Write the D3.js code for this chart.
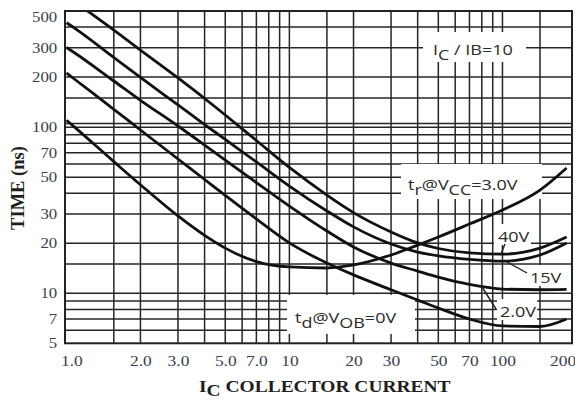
<!DOCTYPE html>
<html>
<head>
<meta charset="utf-8">
<script src="https://cdn.jsdelivr.net/npm/d3@7/dist/d3.min.js"></script>
<style>
  body { margin: 0; background: #fff; }
  svg { display: block; }
</style>
</head>
<body>
<svg id="chart" width="575" height="401"></svg>
<script>
// Switching times vs. collector current, IC/IB = 10

// collector current sample points (mA) shared by most curves
const currents = [0.9, 1, 1.5, 2, 3, 4, 5, 7, 10, 15, 20, 30, 40, 50, 70, 100, 150, 200];
// rise time at VCC = 3.0 V (ns)
const tr3V  = [110, 98, 62, 45, 29.2, 22.3, 18.7, 15.5, 14.4, 14.2, 14.8, 17, 19.5, 21.8, 26.1, 31.7, 41.8, 56.8];
// delay time at VOB = 0 V (ns)
const td0V  = [211.8, 190.8, 128, 96.1, 64.3, 48.4, 38.8, 28, 20.1, 15.2, 12.9, 10.5, 9.1, 8.15, 7.0, 6.36, 6.31, 7.0];
// rise time at VCC = 2.0 V (ns)
const tr2V  = [301.5, 275.6, 189.5, 145, 101.6, 78, 63.4, 46.4, 33.5, 23.7, 19, 15.2, 13.6, 12.5, 11.3, 10.6, 10.5, 10.55];
// rise time at VCC = 15 V (ns)
const tr15V = [425, 388, 262.5, 199, 136, 103.7, 84.3, 61.7, 44.2, 31.3, 25.1, 19.8, 17.7, 16.8, 16, 15.6, 17, 20.1];
// the 40 V curve enters the chart through its upper edge
const currents40 = [1.13, 1.5, 2, 3, 4, 5, 7, 10, 15, 20, 30, 40, 50, 70, 100, 150, 200];
const tr40V = [500, 384, 291, 197.6, 148.7, 118.3, 83.1, 57.2, 39, 30.6, 23.4, 20.1, 18.6, 17.5, 17.2, 18.7, 21.8];

// axis ticks and grid
const xTicks = [1, 2, 3, 5, 7, 10, 20, 30, 50, 70, 100, 200];
const xTickLabels = ["1.0", "2.0", "3.0", "5.0", "7.0", "10", "20", "30", "50", "70", "100", "200"];
const yTicks = [5, 7, 10, 20, 30, 50, 70, 100, 200, 300, 500];
const xGrid = [1.5, 2, 3, 4, 5, 6, 7, 8, 9, 10, 15, 20, 30, 40, 50, 60, 70, 80, 90, 100, 150];
const yGrid = [6, 7, 8, 9, 10, 15, 20, 30, 40, 50, 60, 70, 80, 90, 100, 105, 150, 200, 300, 400];

const plot = { left: 65, right: 572, top: 11, bottom: 343.3 };
const stretch = 1.2;          // type in this sheet is set wide
const serif = "'Liberation Serif', 'Times New Roman', serif";
const sans = "'Open Sans', 'DejaVu Sans', sans-serif";

const x = d3.scaleLog().domain([0.885, 212]).range([plot.left, plot.right]);
const y = d3.scaleLog().domain([5, 500]).range([plot.bottom, plot.top]);

const svg = d3.select("#chart");
svg.append("rect").attr("width", 575).attr("height", 401).attr("fill", "#fff");

svg.append("defs").append("clipPath").attr("id", "plotArea")
  .append("rect")
  .attr("x", plot.left).attr("y", plot.top)
  .attr("width", plot.right - plot.left).attr("height", plot.bottom - plot.top);

// grid
const grid = svg.append("g").attr("clip-path", "url(#plotArea)")
  .attr("stroke", "#262626").attr("stroke-width", 1.5);
grid.selectAll("line.v").data(xGrid).join("line").attr("class", "v")
  .attr("x1", d => x(d)).attr("x2", d => x(d))
  .attr("y1", plot.top).attr("y2", plot.bottom);
grid.selectAll("line.h").data(yGrid).join("line").attr("class", "h")
  .attr("x1", plot.left).attr("x2", plot.right)
  .attr("y1", d => y(d)).attr("y2", d => y(d));

// white panels behind the annotations
const panels = [
  [423, 32, 103, 30],    // IC / IB
  [401, 164, 141, 35],   // tr @ VCC
  [287, 295, 128, 39],   // td @ VOB
  [494, 224, 37, 21],    // 40V
  [527, 265, 36, 21],    // 15V
  [497, 299, 40, 21]     // 2.0V
];
svg.append("g").selectAll("rect").data(panels).join("rect")
  .attr("x", d => d[0]).attr("y", d => d[1])
  .attr("width", d => d[2]).attr("height", d => d[3])
  .attr("fill", "#fff");

// curves
const series = [
  { ic: currents, t: tr3V },
  { ic: currents, t: td0V },
  { ic: currents, t: tr2V },
  { ic: currents, t: tr15V },
  { ic: currents40, t: tr40V }
];
const line = d3.line()
  .x(d => x(d[0])).y(d => y(d[1]))
  .curve(d3.curveMonotoneX);
svg.append("g").attr("clip-path", "url(#plotArea)")
  .selectAll("path").data(series).join("path")
  .attr("d", s => line(s.ic.map((c, i) => [c, s.t[i]])))
  .attr("fill", "none").attr("stroke", "#111")
  .attr("stroke-width", 2.8).attr("stroke-linejoin", "round");

// leader lines from the voltage labels to their curves
const leaders = [
  [505, 244, 501, 254],
  [527, 273, 507, 262],
  [496, 309, 482, 287]
];
svg.append("g").selectAll("line").data(leaders).join("line")
  .attr("x1", d => d[0]).attr("y1", d => d[1])
  .attr("x2", d => d[2]).attr("y2", d => d[3])
  .attr("stroke", "#222").attr("stroke-width", 1.4);

// frame
svg.append("rect")
  .attr("x", plot.left).attr("y", plot.top)
  .attr("width", plot.right - plot.left).attr("height", plot.bottom - plot.top)
  .attr("fill", "none").attr("stroke", "#222").attr("stroke-width", 2);

// axes
const xShift = d => (d === 1 ? -5 : d === 200 ? -4 : 0);
const xAxis = svg.append("g")
  .attr("transform", `translate(0,${plot.bottom})`)
  .call(d3.axisBottom(x).tickValues(xTicks)
    .tickFormat((d, i) => xTickLabels[i]).tickSize(0).tickPadding(12));
xAxis.select(".domain").remove();
xAxis.selectAll("text")
  .attr("font-family", serif).attr("font-size", 14.5).attr("fill", "#3a3d4c")
  .attr("transform", d => `translate(${xShift(d)},0) scale(${stretch},1)`);

const yAxis = svg.append("g")
  .attr("transform", `translate(${plot.left},0)`)
  .call(d3.axisLeft(y).tickValues(yTicks).tickFormat(d3.format("d"))
    .tickSize(0).tickPadding(6.5));
yAxis.select(".domain").remove();
yAxis.selectAll("text")
  .attr("font-family", serif).attr("font-size", 14).attr("fill", "#3a3d4c")
  .attr("y", d => d === 500 ? 6 : 0)
  .attr("transform", `scale(${stretch},1)`);

// rich text helper: parts are [string, "sub"|""]
function richText(px, py, parts, opts) {
  const g = svg.append("g").attr("transform", `translate(${px},${py}) scale(${opts.sx || stretch},1)`);
  const t = g.append("text")
    .attr("font-family", opts.family).attr("font-size", opts.size)
    .attr("font-weight", opts.weight || "normal").attr("fill", opts.fill || "#2a2a2a");
  let shift = 0;
  parts.forEach(([str, kind]) => {
    const target = kind === "sub" ? opts.sub : 0;
    t.append("tspan").attr("dy", target - shift).text(str);
    shift = target;
  });
  return t;
}

const ann = { family: sans, size: 15, sub: 4.5, fill: "#2b2b2b" };
richText(433, 55, [["I", ""], ["C", "sub"], [" / I", ""], ["B=10", ""]], ann);
richText(408, 190, [["t", ""], ["r", "sub"], ["@V", ""], ["CC", "sub"], ["=3.0V", ""]], ann);
richText(295, 323, [["t", ""], ["d", "sub"], ["@V", ""], ["OB", "sub"], ["=0V", ""]], ann);
richText(498, 242, [["40V", ""]], ann);
richText(530, 283, [["15V", ""]], ann);
richText(500, 317, [["2.0V", ""]], ann);

// axis titles
richText(199, 391.5, [["I", ""], ["C", "sub"], [" COLLECTOR CURRENT", ""]],
  { family: serif, size: 16.5, weight: "bold", sub: 4.5, fill: "#1e1e1e", sx: 1.18 });
svg.append("text")
  .attr("transform", "translate(23.5,188) rotate(-90)")
  .attr("text-anchor", "middle")
  .attr("font-family", serif).attr("font-size", 18.5).attr("font-weight", "bold")
  .attr("fill", "#1e1e1e")
  .text("TIME (ns)");
</script>
</body>
</html>
